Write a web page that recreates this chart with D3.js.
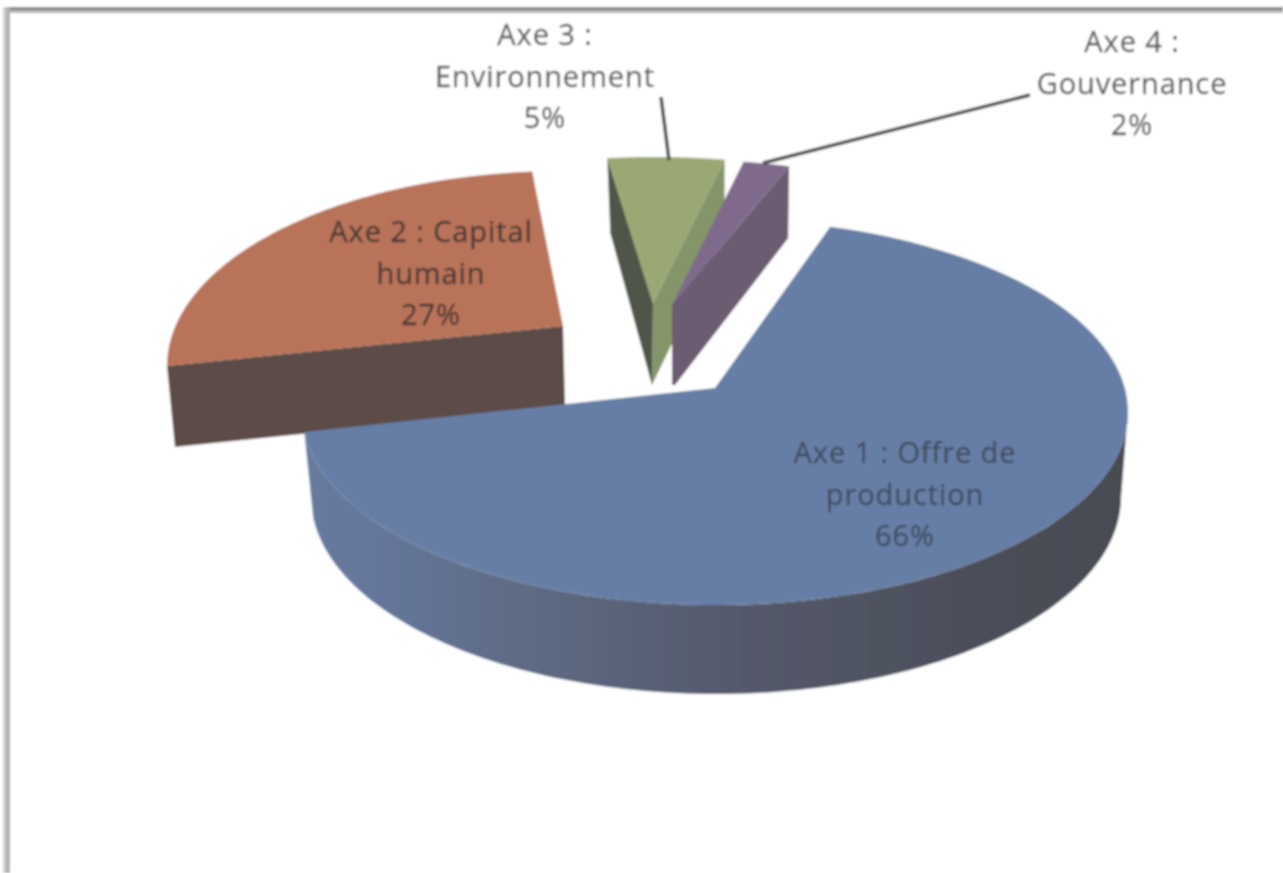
<!DOCTYPE html>
<html><head><meta charset="utf-8">
<script src="https://cdn.jsdelivr.net/npm/d3@7/dist/d3.min.js"></script>
<style>html,body{margin:0;padding:0;background:#fff;overflow:hidden}svg{display:block}</style>
</head><body><svg id="c" width="1283" height="873"></svg>
<script>
// ---- data
const categories = ["Axe 1 : Offre de production","Axe 2 : Capital humain","Axe 3 : Environnement","Axe 4 : Gouvernance"];
const values = [66,27,5,2];
const percentLabels = ["66%","27%","5%","2%"];
const labelLines = [["Axe 1 : Offre de","production"],["Axe 2 : Capital","humain"],["Axe 3 :","Environnement"],["Axe 4 :","Gouvernance"]];
// ---- styles
const topColors = ["#667ea6","#b97359","#9aa873","#7f6b8b"];
const textColors = ["#434d60","#4a3a35","#5e5e5e","#5e5e5e"];
// ---- layout of the exploded slices
const geom = [
 {apex:[715,388],c:[715,412],rx:413,ry:193,t0:16.2,k:1.043},
 {apex:[563,326],c:[563,366],rx:396,ry:195,t0:270,k:0.88},
 {apex:[653,303],c:[653,303],rx:375,ry:146,t0:-7,k:1},
 {apex:[672,305],c:[672,305],rx:375,ry:146,t0:11,k:1}
];
const labelPos = [[905,453],[431,232],[545,35],[1132,42]];
const labelPitch = 41.5;
const leaders = [null,null,[[661,97],[669,160]],[[1030,95],[763,163]]];

const svg = d3.select("#c");
const defs = svg.append("defs");
defs.append("filter").attr("id","soft").attr("x",0).attr("y",0).attr("width",1).attr("height",1)
  .attr("filterUnits","objectBoundingBox")
  .append("feGaussianBlur").attr("stdDeviation",1.05);
const wall = defs.append("linearGradient").attr("id","wall").attr("gradientUnits","userSpaceOnUse")
  .attr("x1",303).attr("x2",1128).attr("y1",0).attr("y2",0);
[[0,"#677b9f"],[0.1,"#65769a"],[0.25,"#5f6c86"],[0.5,"#565b6e"],[0.8,"#4c4f5a"],[1,"#494b53"]]
  .forEach(s=>wall.append("stop").attr("offset",s[0]).attr("stop-color",s[1]));

const g = svg.append("g").attr("filter","url(#soft)");
g.append("rect").attr("width",1283).attr("height",873).attr("fill","#fff");

const deg = d3.scaleLinear().domain([0,360]).range([0,2*Math.PI]);
const pieGen = d3.pie().sort(null).startAngle(deg(18.2)).endAngle(deg(378.2));
const arcs = pieGen(values);

const line = d3.line().curve(d3.curveLinear);
function pts(el,a,b,n=90){
  return d3.range(n+1).map(i=>{
    const t = deg(a+(b-a)*i/n);
    return [el.c[0]+el.rx*Math.sin(t), el.c[1]-el.ry*Math.cos(t)];
  });
}
function screenT(i){
  const G=geom[i];
  const th0=arcs[i].startAngle*180/Math.PI, th1=arcs[i].endAngle*180/Math.PI;
  return d3.scaleLinear().domain([th0,th1]).range([G.t0,G.t0+(th1-th0)*G.k]);
}
function topFace(i,lay){
  const G=geom[i], s=screenT(i);
  const a=s(arcs[i].startAngle*180/Math.PI), b=s(arcs[i].endAngle*180/Math.PI);
  lay.append("path").attr("d",line([G.apex,...pts(G,a,b,120)])+"Z").attr("fill",topColors[i]);
  return [a,b];
}
const poly=(lay,P,fill)=>lay.append("path").attr("d",line(P)+"Z").attr("fill",fill);

// Axe 2 (red)
{
  const G=geom[1], s=screenT(1);
  const a=s(arcs[1].startAngle*180/Math.PI);
  const left=pts(G,a,a,1)[0];
  poly(g,[G.apex,left,[left[0]+8,left[1]+81],[G.apex[0]+2,G.apex[1]+81]],"#5b4b46");
  topFace(1,g);
}
// Axe 1 (blue)
{
  const G=geom[0], s=screenT(0);
  const b=s(arcs[0].endAngle*180/Math.PI);
  const bottom={c:[716,497],rx:405,ry:197};
  g.append("path").attr("d",line([...pts(G,90,b,120),...pts(bottom,b,90,120)])+"Z").attr("fill","url(#wall)");
  topFace(0,g);
}
// Axe 3 (green)
{
  const G=geom[2], s=screenT(2);
  const a=s(arcs[2].startAngle*180/Math.PI), b=s(arcs[2].endAngle*180/Math.PI);
  const L=pts(G,a,a,1)[0], R=pts(G,b,b,1)[0];
  poly(g,[G.apex,R,[R[0],R[1]+75],[G.apex[0]-1,G.apex[1]+82]],"#84956b");
  poly(g,[L,[L[0]+3,L[1]+75],[G.apex[0]-1,G.apex[1]+82],G.apex],"#50574a");
  topFace(2,g);
}
// Axe 4 (purple)
{
  const G=geom[3], s=screenT(3);
  const b=s(arcs[3].endAngle*180/Math.PI);
  const R=pts(G,b,b,1)[0];
  poly(g,[G.apex,R,[R[0]-1,R[1]+72],[G.apex[0]+3,G.apex[1]+80],[G.apex[0],G.apex[1]+80]],"#6c5c72");
  topFace(3,g);
}
// frame
g.append("line").attr("x1",6).attr("x2",1283).attr("y1",8.5).attr("y2",8.5).attr("stroke","#858585").attr("stroke-width",3);
g.append("line").attr("x1",6).attr("x2",1283).attr("y1",11.5).attr("y2",11.5).attr("stroke","#b5b5b5").attr("stroke-width",3);
g.append("line").attr("x1",4.5).attr("x2",4.5).attr("y1",7).attr("y2",873).attr("stroke","#d0d0d0").attr("stroke-width",3);
g.append("line").attr("x1",8).attr("x2",8).attr("y1",7).attr("y2",873).attr("stroke","#b0b0b0").attr("stroke-width",4);

// leaders
leaders.forEach(L=>{ if(L) g.append("path").attr("d",line(L)).attr("stroke","#4a4a4a").attr("stroke-width",3.5).attr("fill","none"); });

// labels
categories.forEach((cat,i)=>{
  const t=g.append("text").attr("text-anchor","middle").attr("font-family","'Open Sans', sans-serif")
    .attr("font-size",29).attr("letter-spacing",0.9).attr("fill",textColors[i])
    .attr("stroke",textColors[i]).attr("stroke-width",0.35).attr("aria-label",cat);
  [...labelLines[i],percentLabels[i]].forEach((ln,j)=>{
    t.append("tspan").attr("x",labelPos[i][0]).attr("y",labelPos[i][1]+j*labelPitch).attr("dy","0.35em").text(ln);
  });
});
</script></body></html>
